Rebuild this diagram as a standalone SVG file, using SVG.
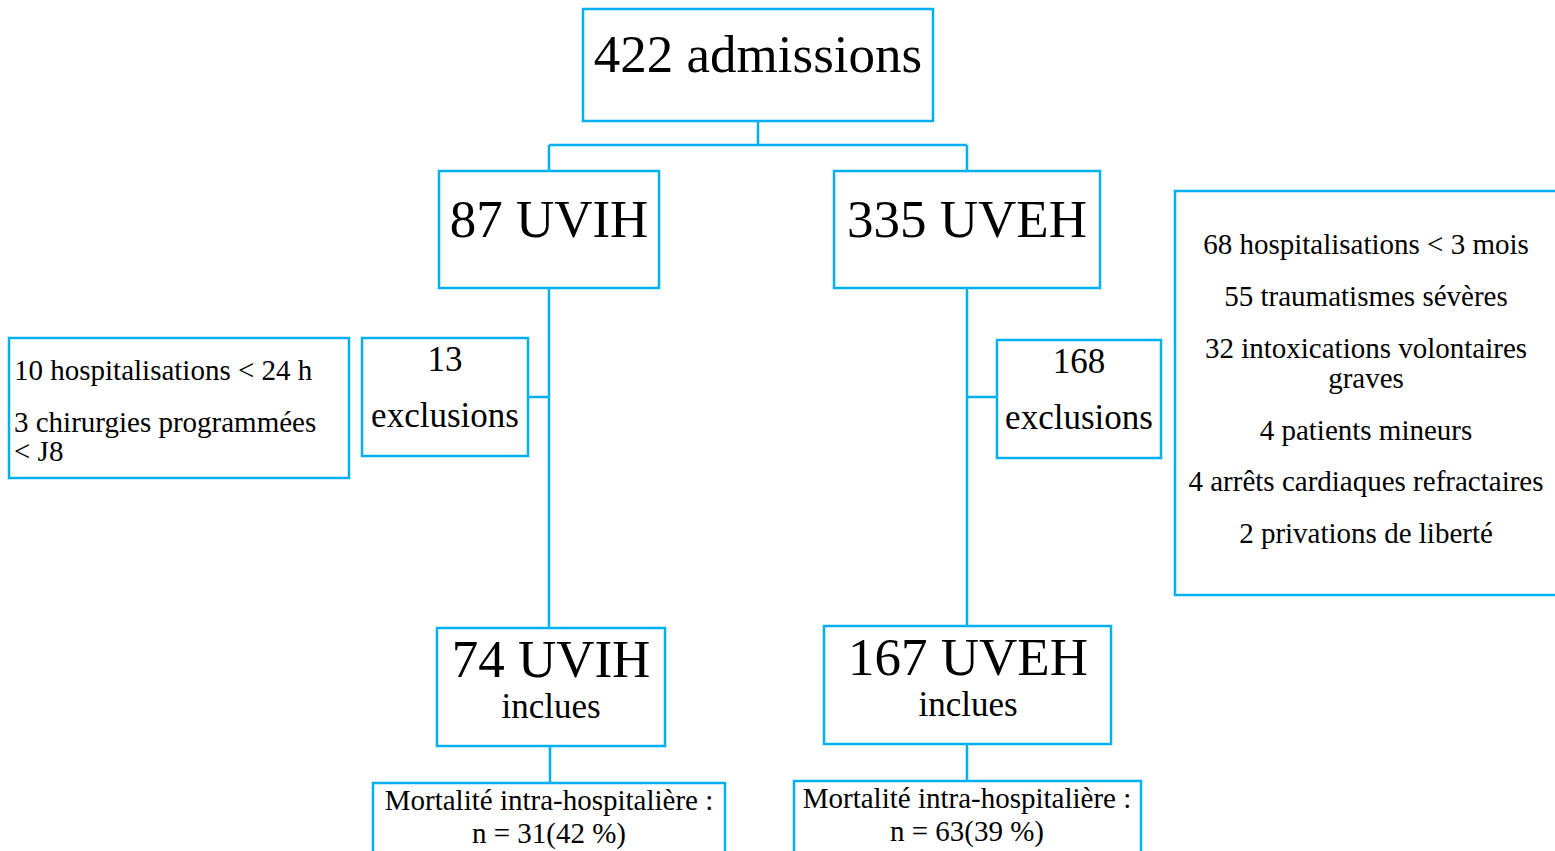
<svg xmlns="http://www.w3.org/2000/svg" width="1555" height="851" viewBox="0 0 1555 851">
<style>
.box{fill:#fff;stroke:#00B0F0;stroke-width:2.5}
.ln{fill:none;stroke:#00B0F0;stroke-width:2.5}
text{font-family:"Liberation Serif","Times New Roman",serif;fill:#000}
.big{font-size:53px;text-anchor:middle}
.mid{font-size:35px;text-anchor:middle}
.sm{font-size:29px}
.c{text-anchor:middle}
</style>
<rect width="1555" height="851" fill="#fff"/>
<g id="connectors">
<path class="ln" d="M758 121V145M549 145H967M549 145V171M967 145V171"/>
<path class="ln" d="M549 288V628M528 397H549"/>
<path class="ln" d="M967 288V626M967 397H997"/>
<path class="ln" d="M550 746V783M967 744V781"/>
</g>
<g id="n-admissions">
<rect class="box" x="583" y="9" width="350" height="112"/>
<text class="big" x="758" y="72">422 admissions</text>
</g>
<g id="n-uvih">
<rect class="box" x="439" y="171" width="220" height="117"/>
<text class="big" x="549" y="237">87 UVIH</text>
</g>
<g id="n-uveh">
<rect class="box" x="834" y="171" width="266" height="117"/>
<text class="big" x="967" y="237">335 UVEH</text>
</g>
<g id="n-uvih-reasons">
<rect class="box" x="9" y="338" width="340" height="140"/>
<text class="sm" x="14" y="380">10 hospitalisations &lt; 24 h</text>
<text class="sm" x="14" y="432">3 chirurgies programmées</text>
<text class="sm" x="14" y="461">&lt; J8</text>
</g>
<g id="n-uvih-excl">
<rect class="box" x="362" y="338" width="166" height="118"/>
<text class="mid" x="445" y="371">13</text>
<text class="mid" x="445" y="427">exclusions</text>
</g>
<g id="n-uveh-excl">
<rect class="box" x="997" y="340" width="164" height="118"/>
<text class="mid" x="1079" y="373">168</text>
<text class="mid" x="1079" y="429">exclusions</text>
</g>
<g id="n-uveh-reasons">
<rect class="box" x="1175" y="191" width="395" height="404"/>
<text class="sm c" x="1366" y="254">68 hospitalisations &lt; 3 mois</text>
<text class="sm c" x="1366" y="306">55 traumatismes sévères</text>
<text class="sm c" x="1366" y="358">32 intoxications volontaires</text>
<text class="sm c" x="1366" y="388">graves</text>
<text class="sm c" x="1366" y="440">4 patients mineurs</text>
<text class="sm c" x="1366" y="491">4 arrêts cardiaques refractaires</text>
<text class="sm c" x="1366" y="543">2 privations de liberté</text>
</g>
<g id="n-uvih-incl">
<rect class="box" x="437" y="628" width="228" height="118"/>
<text class="big" x="551" y="677">74 UVIH</text>
<text class="mid" x="551" y="718">inclues</text>
</g>
<g id="n-uveh-incl">
<rect class="box" x="824" y="626" width="287" height="118"/>
<text class="big" x="968" y="675">167 UVEH</text>
<text class="mid" x="968" y="716">inclues</text>
</g>
<g id="n-uvih-mort">
<rect class="box" x="373" y="783" width="352" height="80"/>
<text class="sm c" x="549" y="810">Mortalité intra-hospitalière :</text>
<text class="sm c" x="549" y="843">n = 31(42 %)</text>
</g>
<g id="n-uveh-mort">
<rect class="box" x="794" y="781" width="347" height="80"/>
<text class="sm c" x="967" y="808">Mortalité intra-hospitalière :</text>
<text class="sm c" x="967" y="841">n = 63(39 %)</text>
</g>
</svg>
